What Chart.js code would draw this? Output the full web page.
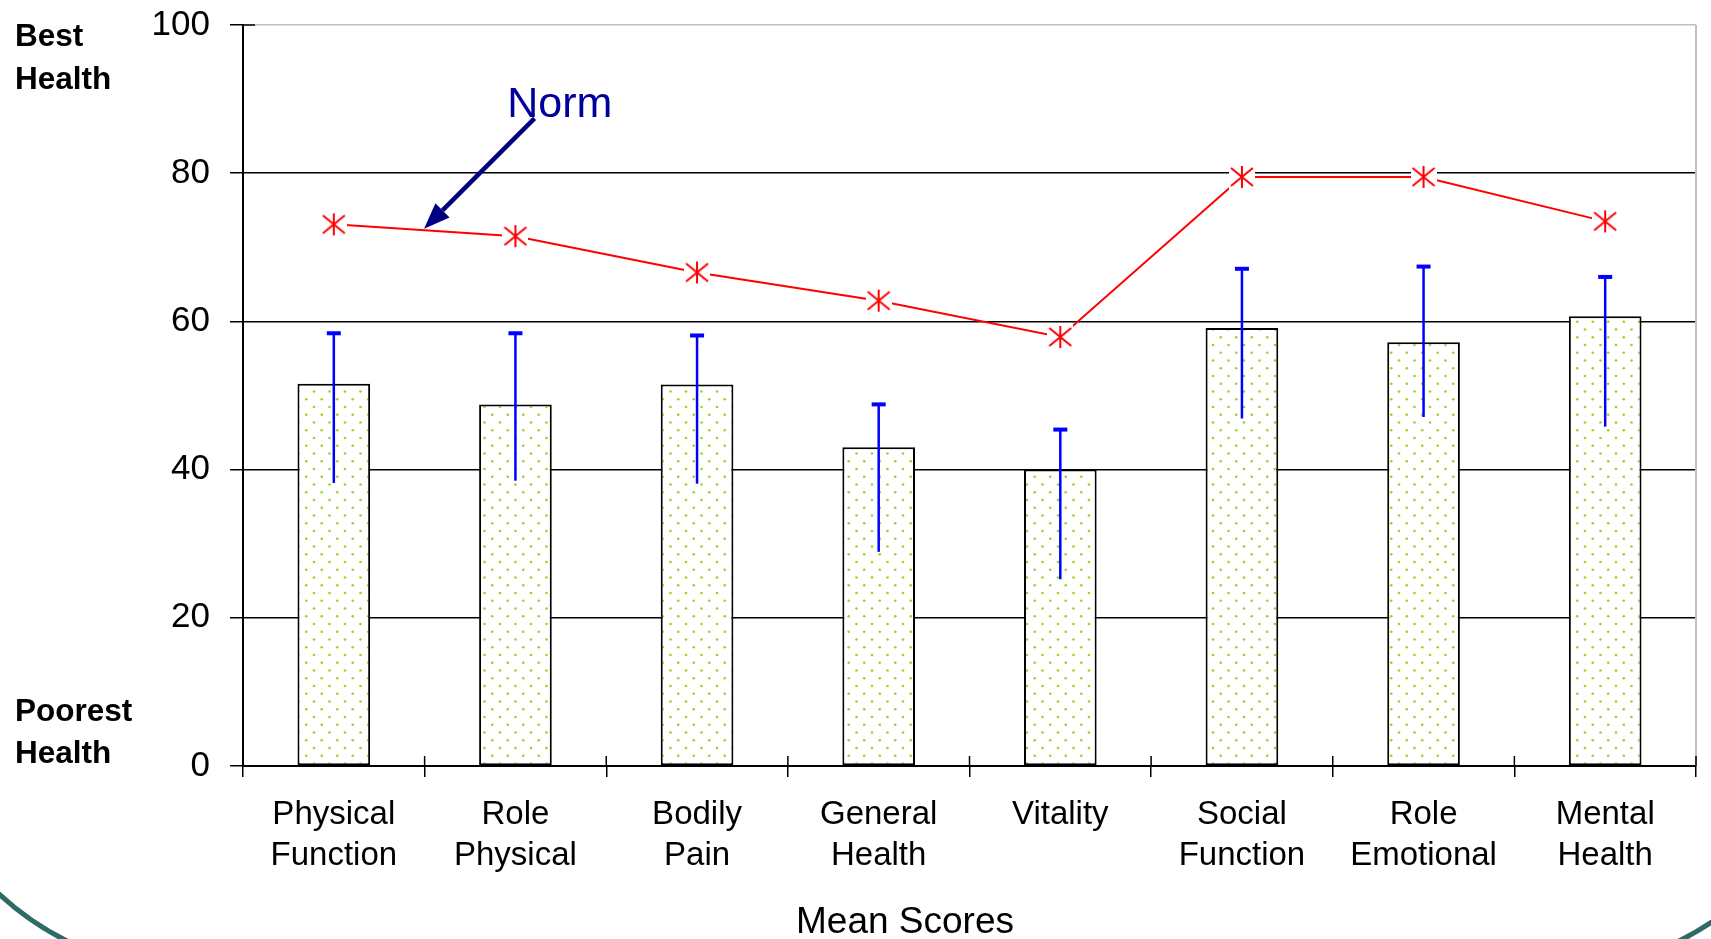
<!DOCTYPE html>
<html>
<head>
<meta charset="utf-8">
<script src="https://cdn.jsdelivr.net/npm/chart.js@4.4.1/dist/chart.umd.min.js"></script>
<style>
  html, body { margin: 0; padding: 0; background: #fff; }
  #wrap { position: relative; width: 1711px; height: 939px; overflow: hidden; }
</style>
</head>
<body>
<div id="wrap"><canvas id="scores" width="1711" height="939"></canvas></div>
<script>
// SF-36 scale means
const categories = [
  ['Physical', 'Function'], ['Role', 'Physical'], ['Bodily', 'Pain'], ['General', 'Health'],
  ['Vitality'], ['Social', 'Function'], ['Role', 'Emotional'], ['Mental', 'Health']
];
const meanScores = [51.6, 48.8, 51.5, 43.0, 40.0, 59.1, 57.2, 60.7];
const errHigh    = [58.4, 58.4, 58.1, 48.8, 45.4, 67.1, 67.4, 66.0];
const errLow     = [38.2, 38.5, 38.1, 28.9, 25.2, 46.9, 47.1, 45.8];
const normScores = [73.1, 71.5, 66.6, 62.8, 57.9, 79.5, 79.5, 73.5];
const yTicks = [0, 20, 40, 60, 80, 100];

const FONT = '"Liberation Sans", Arial, sans-serif';
Chart.defaults.font.family = FONT;
Chart.defaults.color = '#000';

const canvas = document.getElementById('scores');
const ctx = canvas.getContext('2d');

// dotted fill like the old excel pattern
function dotPattern() {
  const t = document.createElement('canvas');
  t.width = 31; t.height = 31;
  const c = t.getContext('2d');
  c.fillStyle = '#fff';
  c.fillRect(0, 0, 31, 31);
  c.fillStyle = '#9fd22a';
  const pts = [[4, 4], [19.5, 4], [11.75, 11.75], [27.25, 11.75],
               [4, 19.5], [19.5, 19.5], [11.75, 27.25], [27.25, 27.25]];
  pts.forEach(p => { c.beginPath(); c.arc(p[0], p[1], 1.35, 0, Math.PI * 2); c.fill(); });
  return ctx.createPattern(t, 'repeat');
}

// star marker, white box behind it leaves the gap in the line
function starMarker() {
  const m = document.createElement('canvas');
  m.width = 26; m.height = 26;
  const c = m.getContext('2d');
  c.fillStyle = '#fff';
  c.fillRect(0, 0, 26, 26);
  c.strokeStyle = '#ff0000';
  c.lineWidth = 2;
  c.beginPath();
  c.moveTo(2, 4); c.lineTo(24, 22);
  c.moveTo(24, 4); c.lineTo(2, 22);
  c.moveTo(13, 2); c.lineTo(13, 24);
  c.stroke();
  return m;
}

const errorBars = {
  id: 'errorBars',
  afterDatasetDraw(chart, args) {
    if (args.index !== 0) return;
    const y = chart.scales.y, c = chart.ctx;
    c.save();
    c.strokeStyle = '#0000ff';
    c.fillStyle = '#0000ff';
    c.lineWidth = 2.5;
    args.meta.data.forEach((bar, i) => {
      const top = y.getPixelForValue(errHigh[i]);
      const bot = y.getPixelForValue(errLow[i]);
      c.beginPath();
      c.moveTo(bar.x, top);
      c.lineTo(bar.x, bot);
      c.stroke();
      c.fillRect(bar.x - 7, top - 2, 14, 4);
    });
    c.restore();
  }
};

const decorations = {
  id: 'decorations',
  beforeDatasetsDraw(chart) {
    const a = chart.chartArea, c = chart.ctx, x = chart.scales.x;
    c.save();
    c.strokeStyle = '#c0c0c0';
    c.lineWidth = 2;
    c.beginPath();
    c.moveTo(a.right, a.top);
    c.lineTo(a.right, a.bottom);
    c.stroke();
    // excel style cross ticks: small part inside the plot
    c.strokeStyle = '#000';
    c.lineWidth = 1.5;
    c.beginPath();
    for (let i = 0; i <= categories.length; i++) {
      const px = x.getPixelForValue(i - 0.5);
      c.moveTo(px, a.bottom);
      c.lineTo(px, a.bottom - 10);
    }
    c.moveTo(a.left, a.top);
    c.lineTo(a.left + 12, a.top);
    c.stroke();
    c.restore();
  },
  afterDraw(chart) {
    const c = chart.ctx, x = chart.scales.x, y = chart.scales.y;
    c.save();
    c.fillStyle = '#000';
    c.textAlign = 'left';
    c.textBaseline = 'alphabetic';
    c.font = 'bold 31.5px ' + FONT;
    c.fillText('Best', 15, 46);
    c.fillText('Health', 15, 89);
    c.fillText('Poorest', 15, 721);
    c.fillText('Health', 15, 763);

    c.font = '37px ' + FONT;
    c.textAlign = 'center';
    c.fillText('Mean Scores', 905, 933);

    // Norm label and arrow
    c.font = '43px ' + FONT;
    c.textAlign = 'left';
    c.fillStyle = '#00009c';
    c.fillText('Norm', x.getPixelForValue(0.955), y.getPixelForValue(87.6));

    const tx = x.getPixelForValue(1.105), ty = y.getPixelForValue(87.4);
    const hx = x.getPixelForValue(0.497), hy = y.getPixelForValue(72.5);
    const ang = Math.atan2(hy - ty, hx - tx);
    const len = 26, half = 10;
    const bx = hx - Math.cos(ang) * len, by = hy - Math.sin(ang) * len;
    c.strokeStyle = '#000080';
    c.fillStyle = '#000080';
    c.lineWidth = 4.5;
    c.beginPath();
    c.moveTo(tx, ty);
    c.lineTo(bx, by);
    c.stroke();
    c.beginPath();
    c.moveTo(hx, hy);
    c.lineTo(bx + Math.sin(ang) * half, by - Math.cos(ang) * half);
    c.lineTo(bx - Math.sin(ang) * half, by + Math.cos(ang) * half);
    c.closePath();
    c.fill();

    // slide frame corners
    c.strokeStyle = '#2e6a66';
    c.lineWidth = 5;
    c.beginPath();
    c.arc(195, 683, 288, Math.PI / 2, Math.PI);
    c.stroke();
    c.beginPath();
    c.arc(1551, 683, 288, 0, Math.PI / 2);
    c.stroke();
    c.restore();
  }
};

new Chart(canvas, {
  type: 'bar',
  plugins: [errorBars, decorations],
  data: {
    labels: categories,
    datasets: [
      {
        type: 'bar',
        label: 'Mean Scores',
        data: meanScores,
        backgroundColor: dotPattern(),
        borderColor: '#000',
        borderWidth: 2,
        borderSkipped: false,
        barPercentage: 0.4,
        categoryPercentage: 1,
        order: 2
      },
      {
        type: 'line',
        label: 'Norm',
        data: normScores,
        borderColor: '#ff0000',
        borderWidth: 2,
        pointStyle: starMarker(),
        pointRadius: 13,
        tension: 0,
        order: 1
      }
    ]
  },
  options: {
    responsive: false,
    devicePixelRatio: 1,
    animation: false,
    layout: { padding: { top: 25, right: 7, left: 0, bottom: 0 } },
    plugins: {
      legend: { display: false },
      tooltip: { enabled: false }
    },
    scales: {
      x: {
        offset: true,
        afterFit: s => { s.height = 173; },
        grid: {
          offset: true,
          drawOnChartArea: false,
          tickLength: 11,
          color: '#000',
          lineWidth: 1.5
        },
        border: { color: '#000', width: 2 },
        ticks: {
          padding: 17,
          font: { size: 33, lineHeight: 1.25 },
          color: '#000',
          maxRotation: 0,
          autoSkip: false
        }
      },
      y: {
        min: 0,
        max: 100,
        afterFit: s => { s.width = 243; s.paddingTop = 0; s.paddingBottom = 0; },
        afterBuildTicks: s => { s.ticks = yTicks.map(v => ({ value: v })); },
        grid: {
          color: c => (c.tick && c.tick.value === 100 ? '#c0c0c0' : '#000'),
          tickColor: '#000',
          lineWidth: 1.5,
          tickLength: 13
        },
        border: { color: '#000', width: 2 },
        ticks: {
          padding: 20,
          font: { size: 35 },
          color: '#000'
        }
      }
    }
  }
});
</script>
</body>
</html>
